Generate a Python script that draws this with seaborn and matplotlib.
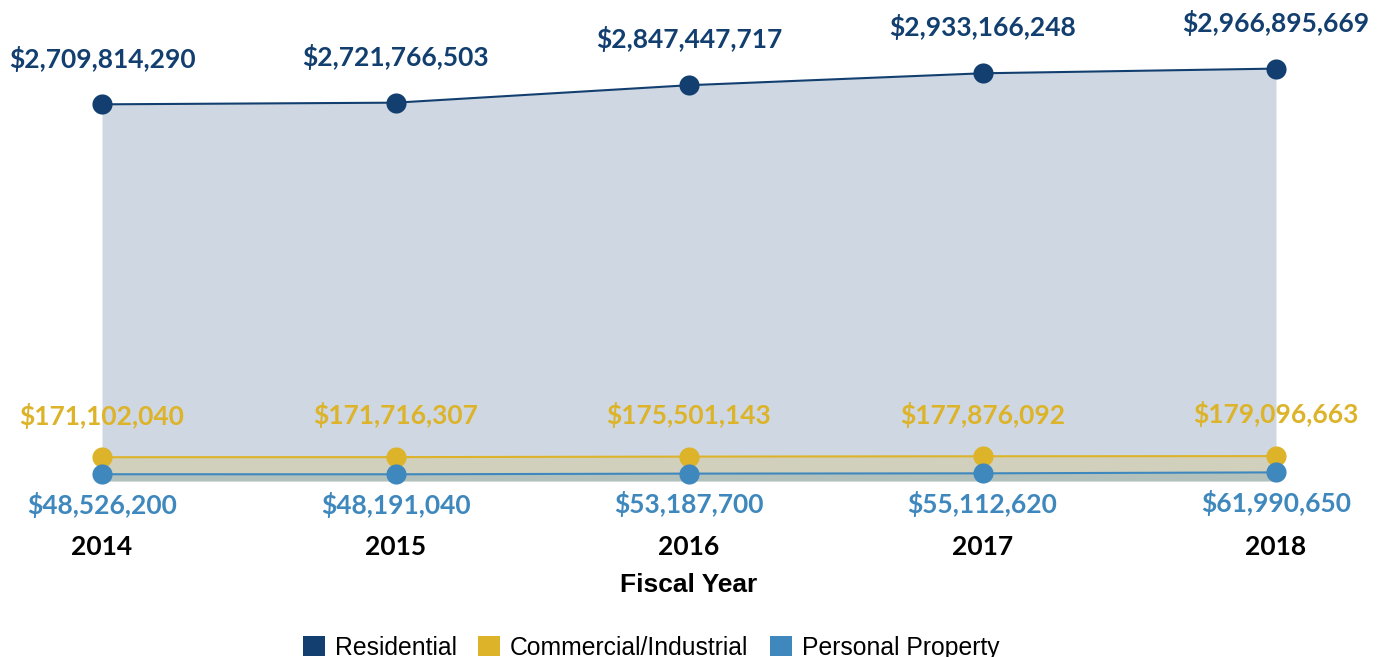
import matplotlib
matplotlib.use("Agg")
import matplotlib.pyplot as plt
from matplotlib.patches import Patch
import seaborn as sns
import pandas as pd

years = [2014, 2015, 2016, 2017, 2018]
residential = [2709814290, 2721766503, 2847447717, 2933166248, 2966895669]
commercial = [171102040, 171716307, 175501143, 177876092, 179096663]
personal = [48526200, 48191040, 53187700, 55112620, 61990650]

series_names = ["Residential", "Commercial/Industrial", "Personal Property"]
colors = {"Residential": "#123f6f", "Commercial/Industrial": "#dcb329",
          "Personal Property": "#3f88bd"}
# label offset in points (above / below the marker)
offsets = {"Residential": 33, "Commercial/Industrial": 30, "Personal Property": -22}

df = pd.DataFrame({
    "Year": years * 3,
    "Value": residential + commercial + personal,
    "Type": [n for n in series_names for _ in years],
})

sns.set_style("white")
fig = plt.figure(figsize=(13.78, 6.57), dpi=100)
ax = fig.add_axes([102 / 1378, 176 / 657, 1174 / 1378, 417 / 657])

for name in series_names:
    sub = df[df["Type"] == name]
    ax.fill_between(sub["Year"], 0, sub["Value"], color=colors[name], alpha=0.2, lw=0)

sns.lineplot(data=df, x="Year", y="Value", hue="Type", palette=colors,
             marker="o", markersize=14.5, markeredgewidth=0, linewidth=1.5,
             legend=False, ax=ax, clip_on=False)

for name in series_names:
    sub = df[df["Type"] == name]
    for x, v in zip(sub["Year"], sub["Value"]):
        ax.annotate(f"${v:,.0f}", (x, v), xytext=(0, offsets[name]),
                    textcoords="offset points", ha="center", va="center",
                    fontsize=19, fontweight="bold", family="Lato",
                    color=colors[name], annotation_clip=False)

ax.set_xlim(2014, 2018)
ax.set_ylim(0, 3e9)
ax.set_xticks(years)
ax.set_xticklabels([str(y) for y in years], fontsize=19, fontweight="bold",
                   family="Lato", color="black")
ax.tick_params(axis="x", length=0, pad=39)
ax.set_yticks([])
ax.set_ylabel("")
ax.set_xlabel("Fiscal Year", fontsize=19, fontweight="bold",
              family="Liberation Sans", color="black", labelpad=10)
for s in ax.spines.values():
    s.set_visible(False)

handles = [Patch(facecolor=colors[n], edgecolor="none", label=n) for n in series_names]
fig.legend(handles=handles, loc="lower center", bbox_to_anchor=(0.4725, -0.038), ncol=3,
           frameon=False, prop={"family": "Liberation Sans", "size": 17.8},
           labelcolor="black",
           handlelength=0.9, handleheight=0.9, handletextpad=0.4, columnspacing=0.85)

fig.savefig("out.png", dpi=100)
